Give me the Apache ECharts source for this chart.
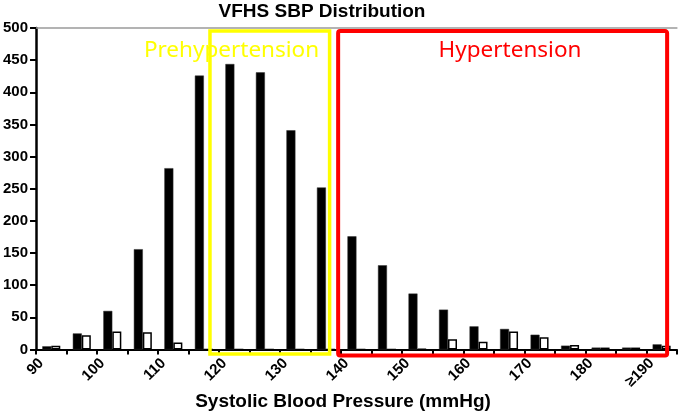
<!DOCTYPE html>
<html>
<head>
<meta charset="utf-8">
<script src="https://cdn.jsdelivr.net/npm/echarts@6/dist/echarts.min.js"></script>
<style>
html,body{margin:0;padding:0;background:#fff;}
#c{width:679px;height:415px;}
</style>
</head>
<body>
<div id="c"></div>
<script>
// ---- data ----
const bins = ['90-94','95-99','100-104','105-109','110-114','115-119','120-124','125-129','130-134','135-139',
  '140-144','145-149','150-154','155-159','160-164','165-169','170-174','175-179','180-184','185-189','≥190'];
const countsBlack = [5,25,60,156,282,426,444,431,341,252,176,131,87,62,36,32,23,6,3,3,8];
const countsWhite = [6,22,28,27,11,0,0,0,0,0,0,0,1,16,12,28,19,7,3,3,6];
const xTickValues = [90,100,110,120,130,140,150,160,170,180,190];
const xTickLabels = ['90','100','110','120','130','140','150','160','170','180','≥190'];
const titleText = 'VFHS SBP Distribution';
const xAxisTitle = 'Systolic Blood Pressure (mmHg)';
const annotations = [
  {label:'Prehypertension', from:118.5, to:138.1, color:'#FFFF00'},
  {label:'Hypertension', from:139.5, to:193.4, color:'#FF0000'}
];

const FONT = '"Liberation Sans", Arial, sans-serif';
const chart = echarts.init(document.getElementById('c'), null, {renderer:'canvas'});

const option = {
  animation: false,
  backgroundColor: '#fff',
  title: [
    {text: titleText, left: 322, top: 2, padding: 0, textAlign: 'center',
     textStyle: {fontSize: 19, fontWeight: 'bold', fontFamily: FONT, color: '#000'}},
    {text: xAxisTitle, left: 343, top: 392, padding: 0, textAlign: 'center',
     textStyle: {fontSize: 19, fontWeight: 'bold', fontFamily: FONT, color: '#000'}}
  ],
  grid: {left: 34, right: 0, top: 28, bottom: 65.5, containLabel: false},
  xAxis: [
    {type: 'category', data: bins, position: 'bottom', boundaryGap: true,
     axisLine: {show: false}, axisTick: {show: false}, axisLabel: {show: false}, splitLine: {show: false}},
    {type: 'value', min: 90, max: 195, interval: 5, position: 'bottom',
     axisLine: {show: true, lineStyle: {color: '#000', width: 2}},
     axisTick: {show: true, length: 5, lineStyle: {color: '#000', width: 2}},
     axisLabel: {show: true, rotate: 45, align: 'right', verticalAlign: 'top', margin: 6,
       fontSize: 15, fontWeight: 'bold', fontFamily: FONT, color: '#000',
       formatter: function (v) { const i = xTickValues.indexOf(v); return i >= 0 ? xTickLabels[i] : ''; }},
     splitLine: {show: false}},
    {type: 'value', min: 0, max: 1, position: 'top',
     axisLine: {show: true, lineStyle: {color: '#9a9a9a', width: 1.5}},
     axisTick: {show: false}, axisLabel: {show: false}, splitLine: {show: false}}
  ],
  yAxis: [{
    type: 'value', min: 0, max: 500, interval: 50,
    axisLine: {show: true, lineStyle: {color: '#000', width: 2.5}},
    axisTick: {show: true, length: 6, lineStyle: {color: '#000', width: 2}},
    axisLabel: {fontSize: 15, fontWeight: 'bold', fontFamily: FONT, color: '#000', margin: 8},
    splitLine: {show: false}
  }],
  series: [
    {type: 'bar', xAxisIndex: 0, yAxisIndex: 0, data: countsBlack, barWidth: 9, barGap: '0%',
     itemStyle: {color: '#000', borderColor: '#333', borderWidth: 0.5}},
    {type: 'bar', xAxisIndex: 0, yAxisIndex: 0, data: countsWhite, barWidth: 9, barGap: '0%',
     itemStyle: {color: '#fff', borderColor: '#000', borderWidth: 1.5}}
  ]
};
chart.setOption(option);

// annotation boxes placed through the axes' scales
const toPx = (x, y) => chart.convertToPixel({xAxisIndex: 1, yAxisIndex: 0}, [x, y]);
const graphics = [];
annotations.forEach(function (a, k) {
  const tl = toPx(a.from, 495.3);
  const br = toPx(a.to, k === 0 ? -7 : -9.3);
  graphics.push({type: 'rect', z: 100, silent: true,
    shape: {x: tl[0], y: tl[1], width: br[0] - tl[0], height: br[1] - tl[1], r: k === 0 ? 0 : 2},
    style: {fill: null, stroke: a.color, lineWidth: k === 0 ? 3.5 : 4}});
});
graphics.push({type: 'text', z: 101, silent: true,
  style: {text: annotations[0].label, x: 231.5, y: 51, align: 'center', verticalAlign: 'middle',
    font: '22.5px "Noto Sans", "Open Sans", sans-serif', fill: annotations[0].color}});
graphics.push({type: 'text', z: 101, silent: true,
  style: {text: annotations[1].label, x: 510, y: 51, align: 'center', verticalAlign: 'middle',
    font: '22.5px "Noto Sans", "Open Sans", sans-serif', fill: annotations[1].color}});
chart.setOption({graphic: graphics});
</script>
</body>
</html>
